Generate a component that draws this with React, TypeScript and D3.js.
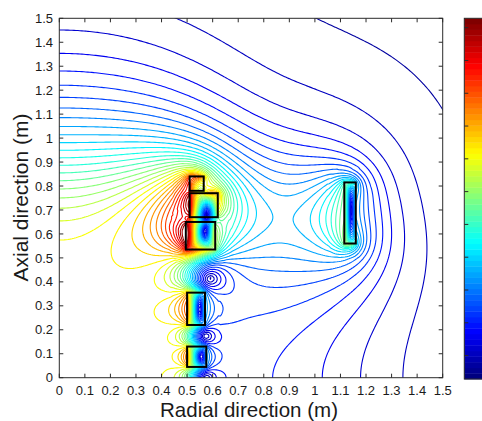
import React, { useMemo } from 'react';
import * as d3 from 'd3';

// coil cross sections (m), upper half; the field is mirrored about z = 0
const coilRin = [0.51, 0.51, 0.495, 0.5, 0.5, 1.115];
const coilRout = [0.565, 0.62, 0.61, 0.57, 0.575, 1.16];
const coilZlo = [0.78, 0.67, 0.535, 0.22, 0.045, 0.56];
const coilZhi = [0.84, 0.77, 0.65, 0.355, 0.13, 0.815];
const coilJ = [61, 61, 61, 61, 61, -57]; // A/mm^2

const axisTicks = [0, 0.1, 0.2, 0.3, 0.4, 0.5, 0.6, 0.7, 0.8, 0.9, 1, 1.1, 1.2, 1.3, 1.4, 1.5];
const axisTickLabels = ['0', '0.1', '0.2', '0.3', '0.4', '0.5', '0.6', '0.7', '0.8', '0.9', '1', '1.1', '1.2', '1.3', '1.4', '1.5'];
const colorTicks = [0.2, 0.55, 0.9, 1.25, 1.6, 1.95, 2.3, 2.65, 3.0, 3.35, 3.7];
const colorLimits = [-0.05, 3.8]; // T
const levelCount = 35;

const plot = { left: 59.3, top: 18.3, right: 442.7, bottom: 377.7 };
const cbar = { left: 464.3, top: 18.3, right: 495, bottom: 379 };
const grid = { nx: 200, ny: 188, r0: -0.02, r1: 1.52, z0: -0.02, z1: 1.52 };
const NEAR = 0.06;

const jet = (t: number) => {
  const c = (v: number) => Math.round(255 * Math.max(0, Math.min(1, v)));
  return `rgb(${c(1.5 - Math.abs(4 * t - 3))},${c(1.5 - Math.abs(4 * t - 2))},${c(1.5 - Math.abs(4 * t - 1))})`;
};
const jet64 = (t: number) => jet(Math.round(Math.max(0, Math.min(1, t)) * 63) / 63);

interface CoilFil { ri: number; ro: number; zl: number; zh: number; fine: number[]; coarse: number[] }

// each coil (and its mirror image) as loops: a fine set on the half-cell lattice of the grid,
// used close to the coil, and a coarse set for the far field
function makeCoils(dr: number, dz: number): CoilFil[] {
  const out: CoilFil[] = [];
  coilJ.forEach((J, c) => {
    [1, -1].forEach(sgn => {
      const ri = coilRin[c], ro = coilRout[c];
      const zl = sgn > 0 ? coilZlo[c] : -coilZhi[c];
      const zh = sgn > 0 ? coilZhi[c] : -coilZlo[c];
      const Itot = J * 1e6 * (ro - ri) * (zh - zl);
      const i0 = Math.ceil((ri - grid.r0) / dr - 0.5), i1 = Math.floor((ro - grid.r0) / dr - 0.5);
      const j0 = Math.ceil((grid.z1 - zh) / dz - 0.5), j1 = Math.floor((grid.z1 - zl) / dz - 0.5);
      const n = (i1 - i0 + 1) * (j1 - j0 + 1);
      const fine: number[] = [];
      for (let i = i0; i <= i1; i++) {
        for (let j = j0; j <= j1; j++) fine.push(grid.r0 + (i + 0.5) * dr, grid.z1 - (j + 0.5) * dz, Itot / n);
      }
      const nr = Math.max(2, Math.round((ro - ri) / 0.025));
      const nz = Math.max(2, Math.round((zh - zl) / 0.025));
      const coarse: number[] = [];
      for (let p = 0; p < nr; p++) {
        for (let q = 0; q < nz; q++) {
          coarse.push(ri + (p + 0.5) * (ro - ri) / nr, zl + (q + 0.5) * (zh - zl) / nz, Itot / (nr * nz));
        }
      }
      out.push({ ri, ro, zl, zh, fine, coarse });
    });
  });
  return out;
}

let BR = 0;
let BZ = 0;

// circular loops, elliptic integrals after A&S 17.3.34/36
function addLoops(fil: number[], r: number, z: number) {
  for (let f = 0; f < fil.length; f += 3) {
    const a = fil[f], zc = fil[f + 1], I = fil[f + 2];
    const u = z - zc;
    const u2 = u * u;
    const ap = a + r, am = a - r;
    const b2 = ap * ap + u2;
    let a2 = am * am + u2;
    if (a2 < 1e-9) a2 = 1e-9;
    const b = Math.sqrt(b2);
    const m1 = a2 / b2;
    const L = -Math.log(m1);
    const K = 1.38629436112 + m1 * (0.09666344259 + m1 * (0.03590092383 + m1 * (0.03742563713 + m1 * 0.01451196212)))
      + L * (0.5 + m1 * (0.12498593597 + m1 * (0.06880248576 + m1 * (0.03328355346 + m1 * 0.00441787012))));
    const E = 1 + m1 * (0.44325141463 + m1 * (0.0626060122 + m1 * (0.04757383546 + m1 * 0.01736506451)))
      + L * m1 * (0.2499836831 + m1 * (0.09200180037 + m1 * (0.04069697526 + m1 * 0.00526449639)));
    BZ += I / b * (K + (a * a - r * r - u2) / a2 * E);
    BR += I * u / (r * b) * ((a * a + r * r + u2) / a2 * E - K);
  }
}

function fieldAt(coils: CoilFil[], rr: number, z: number) {
  const r = Math.max(Math.abs(rr), 1e-3);
  BR = 0;
  BZ = 0;
  for (const c of coils) {
    const dx = Math.max(c.ri - r, 0, r - c.ro);
    const dy = Math.max(c.zl - z, 0, z - c.zh);
    addLoops(dx * dx + dy * dy < NEAR * NEAR ? c.fine : c.coarse, r, z);
  }
  return 2e-7 * Math.sqrt(BR * BR + BZ * BZ);
}

const App: React.FC = () => {
  const width = 482;
  const height = 421;

  const xScale = d3.scaleLinear().domain([0, 1.5]).range([plot.left, plot.right]);
  const yScale = d3.scaleLinear().domain([0, 1.5]).range([plot.bottom, plot.top]);
  const cScale = d3.scaleLinear().domain(colorLimits).range([cbar.bottom, cbar.top]);

  const paths = useMemo(() => {
    const dr = (grid.r1 - grid.r0) / (grid.nx - 1);
    const dz = (grid.z1 - grid.z0) / (grid.ny - 1);
    const coils = makeCoils(dr, dz);
    const values = new Array(grid.nx * grid.ny);
    for (let j = 0; j < grid.ny; j++) {
      for (let i = 0; i < grid.nx; i++) {
        values[j * grid.nx + i] = fieldAt(coils, grid.r0 + i * dr, grid.z1 - j * dz);
      }
    }
    const step = (colorLimits[1] - colorLimits[0]) / (levelCount + 1);
    const levels = d3.range(1, levelCount + 1).map(k => colorLimits[0] + k * step);
    const contours = d3.contours().size([grid.nx, grid.ny]).thresholds(levels)(values);
    const proj = d3.geoTransform({
      point(x: number, y: number) {
        this.stream.point(xScale(grid.r0 + (x - 0.5) * dr), yScale(grid.z1 - (y - 0.5) * dz));
      }
    });
    const path = d3.geoPath(proj);
    return contours.map(c => ({
      d: path(c as any) || '',
      color: jet64((c.value - colorLimits[0]) / (colorLimits[1] - colorLimits[0]))
    }));
  }, []);

  const bands = d3.range(64);
  const bandH = (cbar.bottom - cbar.top) / 64;

  return (
    <svg width={width} height={height} style={{ position: 'absolute', left: 0, top: 0, background: '#fff' }}
      fontFamily="'Liberation Sans', Arial, sans-serif">
      <defs>
        <clipPath id="plot-clip">
          <rect x={plot.left} y={plot.top} width={plot.right - plot.left} height={plot.bottom - plot.top} />
        </clipPath>
      </defs>

      <g clipPath="url(#plot-clip)">
        {paths.map((p, i) => (
          <path key={i} d={p.d} fill="none" stroke={p.color} strokeWidth={1.1} />
        ))}
        {coilJ.map((_, c) => (
          <rect key={c}
            x={xScale(coilRin[c])}
            y={yScale(coilZhi[c])}
            width={xScale(coilRout[c]) - xScale(coilRin[c])}
            height={yScale(coilZlo[c]) - yScale(coilZhi[c])}
            fill="none" stroke="#000" strokeWidth={2} />
        ))}
      </g>

      {/* axes box with inward ticks */}
      <rect x={plot.left} y={plot.top} width={plot.right - plot.left} height={plot.bottom - plot.top}
        fill="none" stroke="#2b2b2b" strokeWidth={1} />
      {axisTicks.map((t, i) => (
        <g key={i} stroke="#2b2b2b" strokeWidth={1}>
          <line x1={xScale(t)} x2={xScale(t)} y1={plot.bottom} y2={plot.bottom - 4} />
          <line x1={xScale(t)} x2={xScale(t)} y1={plot.top} y2={plot.top + 4} />
          <line x1={plot.left} x2={plot.left + 4} y1={yScale(t)} y2={yScale(t)} />
          <line x1={plot.right} x2={plot.right - 4} y1={yScale(t)} y2={yScale(t)} />
        </g>
      ))}
      {axisTicks.map((t, i) => (
        <text key={'x' + i} x={xScale(t)} y={395} textAnchor="middle" fontSize={13} fill="#1a1a1a">
          {axisTickLabels[i]}
        </text>
      ))}
      {axisTicks.map((t, i) => (
        <text key={'y' + i} x={53} y={yScale(t) + 4.6} textAnchor="end" fontSize={13} fill="#1a1a1a">
          {axisTickLabels[i]}
        </text>
      ))}
      <text x={249} y={417} textAnchor="middle" fontSize={21} textLength={178} lengthAdjust="spacingAndGlyphs" fill="#1a1a1a">
        Radial direction (m)
      </text>
      <text transform="translate(28,197.5) rotate(-90)" textAnchor="middle" fontSize={21} textLength={168}
        lengthAdjust="spacingAndGlyphs" fill="#1a1a1a">
        Axial direction (m)
      </text>

      {/* colour bar */}
      {bands.map(k => (
        <rect key={k} x={cbar.left} y={cbar.bottom - (k + 1) * bandH} width={cbar.right - cbar.left}
          height={bandH + 0.4} fill={jet(k / 63)} />
      ))}
      <rect x={cbar.left} y={cbar.top} width={cbar.right - cbar.left} height={cbar.bottom - cbar.top}
        fill="none" stroke="#2b2b2b" strokeWidth={1} />
      {colorTicks.map((t, i) => (
        <line key={i} x1={cbar.left} x2={cbar.left + 4} y1={cScale(t)} y2={cScale(t)} stroke="#2b2b2b" />
      ))}
    </svg>
  );
};

export default App;
